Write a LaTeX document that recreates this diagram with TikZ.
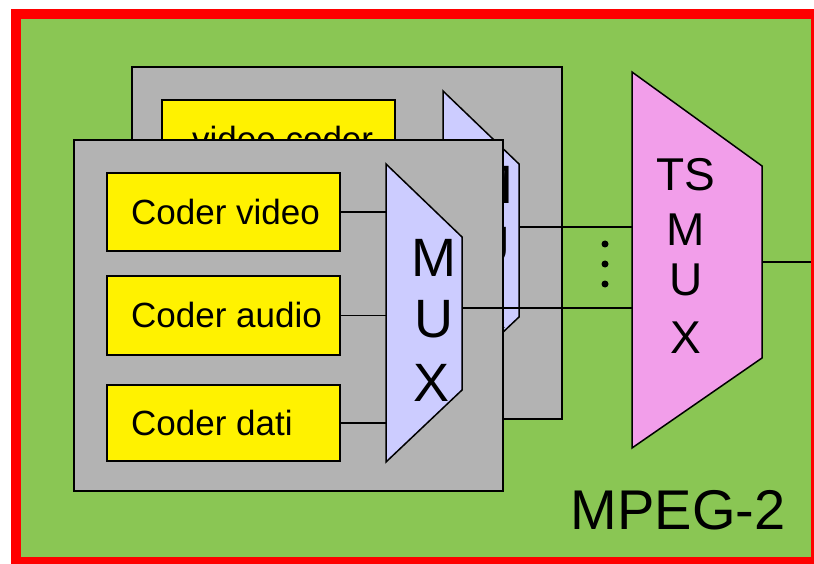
\documentclass[tikz,border=0pt]{standalone}
\usepackage{fontspec}
\setmainfont{Liberation Sans}
\definecolor{bggreen}{RGB}{138,198,84}
\definecolor{panelgray}{RGB}{179,179,179}
\definecolor{muxblue}{RGB}{204,204,255}
\definecolor{tspink}{RGB}{242,158,234}
\definecolor{framered}{RGB}{255,0,0}
\begin{document}
\begin{tikzpicture}[x=1pt,y=-1pt,
  panel/.style={draw=black,line width=2pt,fill=panelgray},
  coderbox/.style={draw=black,line width=1.8pt,fill=yellow,rectangle,anchor=north west,
    minimum width=233pt,minimum height=78pt,inner sep=0pt},
  codertext/.style={anchor=west,inner sep=0pt,font=\fontsize{35}{40}\selectfont},
  muxshape/.style={draw=black,line width=1.5pt,fill=muxblue},
  tsshape/.style={draw=black,line width=1.5pt,fill=tspink},
  muxletter/.style={font=\fontsize{54}{56}\selectfont,inner sep=0pt},
  tsletter/.style={font=\fontsize{46}{50}\selectfont,inner sep=0pt},
  wire/.style={draw=black,line width=1.5pt},
  dotmark/.style={circle,fill=black,inner sep=0pt,minimum size=7pt}]
\useasboundingbox (0,0) rectangle (814,564);
\clip (0,0) rectangle (814,564);
\fill[white] (0,0) rectangle (814,564);
\fill[framered] (11,9) rectangle (830,580);
\fill[bggreen] (21,19) rectangle (811,557);

% ---------- back layer ----------
\node[panel,rectangle,anchor=north west,minimum width=430pt,minimum height=352pt,inner sep=0pt] (bpanel) at (131,66) {};
\node[coderbox] (bcv) at (161,99) {};
\node[codertext] (bcvt) at ([xshift=31pt]bcv.west) {video coder};
\coordinate (bm-nw) at (443,91);
\coordinate (bm-ne) at (519,164);
\coordinate (bm-se) at (519,317);
\coordinate (bm-sw) at (443,389);
\draw[muxshape] (bm-nw) -- (bm-ne) -- (bm-se) -- (bm-sw) -- cycle;
\node[muxletter] (bmM) at (491,185) {M};
\node[muxletter] (bmU) at (491,246) {U};
\node[muxletter] (bmX) at (489,310) {X};
\coordinate (bmo) at (519,227);

% ---------- TS MUX ----------
\coordinate (ts-nw) at (632,72);
\coordinate (ts-ne) at (762,166);
\coordinate (ts-se) at (762,358);
\coordinate (ts-sw) at (632,448);
\coordinate (tso) at (762,262);
\coordinate (out) at (811,262);

\draw[wire] (bmo) -- (bmo -| ts-nw);

% ---------- front layer ----------
\node[panel,rectangle,anchor=north west,minimum width=429pt,minimum height=351pt,inner sep=0pt] (fpanel) at (73,139) {};
\node[coderbox] (cv) at (106,172) {};
\node[coderbox,minimum height=79pt] (ca) at (106,275) {};
\node[coderbox,minimum height=76pt] (cd) at (106,384) {};
\node[codertext] (cvt) at ([xshift=25pt]cv.west) {Coder video};
\node[codertext] (cat) at ([xshift=25pt]ca.west) {Coder audio};
\node[codertext] (cdt) at ([xshift=25pt]cd.west) {Coder dati};
\coordinate (fm-nw) at (386,164);
\coordinate (fm-ne) at (462,237);
\coordinate (fm-se) at (462,390);
\coordinate (fm-sw) at (386,462);
\draw[muxshape] (fm-nw) -- (fm-ne) -- (fm-se) -- (fm-sw) -- cycle;
\node[muxletter] (fmM) at (434,258) {M};
\node[muxletter] (fmU) at (434,319) {U};
\node[muxletter] (fmX) at (432,383) {X};
\draw[wire] (cv.east) -- (cv.east -| fm-nw);
\draw[wire] (ca.east) -- (ca.east -| fm-nw);
\draw[wire] (cd.east) -- (cd.east -| fm-nw);
\coordinate (fmo) at (462,308);
\draw[wire] (fmo) -- (fmo -| ts-nw);

% ---------- TS MUX drawing ----------
\draw[tsshape] (ts-nw) -- (ts-ne) -- (ts-se) -- (ts-sw) -- cycle;
\node[tsletter] (tsT) at (686,175) {TS};
\node[tsletter] (tsM) at (686,230) {M};
\node[tsletter] (tsU) at (686,280) {U};
\node[tsletter] (tsX) at (686,338) {X};
\draw[wire] (tso) -- (out);

\node[dotmark] (d1) at (605,244) {};
\node[dotmark] (d2) at (605,264) {};
\node[dotmark] (d3) at (605,284) {};

\node[font=\fontsize{56}{60}\selectfont,inner sep=0pt] (mpeg) at (678,510) {MPEG-2};
\end{tikzpicture}
\end{document}
